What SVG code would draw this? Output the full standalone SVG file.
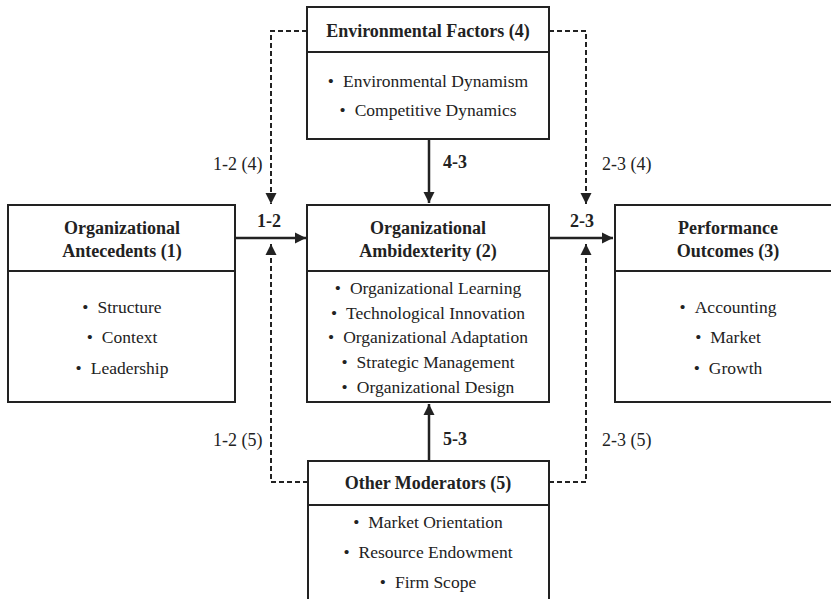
<svg xmlns="http://www.w3.org/2000/svg" width="831" height="599" viewBox="0 0 831 599">
<style>
.box{fill:#fff;stroke:#222;stroke-width:2}
.div{stroke:#222;stroke-width:2}
.t{font-family:"Liberation Serif","Times New Roman",Times,serif;font-size:17.5px;fill:#222;text-anchor:middle}
.b{font-weight:bold;font-size:18px}
.lab{font-family:"Liberation Serif","Times New Roman",Times,serif;font-size:18px;fill:#222}
.solid{fill:none;stroke:#222;stroke-width:2.5}
.dash{fill:none;stroke:#222;stroke-width:2;stroke-dasharray:5,3}
</style>
<defs>
<marker id="ah" markerUnits="userSpaceOnUse" markerWidth="12" markerHeight="12" refX="11" refY="6" orient="auto">
<path d="M0,0.5 L11,6 L0,11.5 z" fill="#222"/>
</marker>
</defs>
<rect width="831" height="599" fill="#fff"/>
<g id="connectors">
<path class="solid" d="M235,238 H306" marker-end="url(#ah)"/>
<path class="solid" d="M549,238 H613" marker-end="url(#ah)"/>
<path class="solid" d="M429,139 V203" marker-end="url(#ah)"/>
<path class="solid" d="M429,461 V404" marker-end="url(#ah)"/>
<path class="dash" d="M307,31 H271 V204" marker-end="url(#ah)"/>
<path class="dash" d="M549,31 H586 V204" marker-end="url(#ah)"/>
<path class="dash" d="M308,482 H271 V244" marker-end="url(#ah)"/>
<path class="dash" d="M549,482 H586 V244" marker-end="url(#ah)"/>
<text class="lab" x="213" y="170">1-2 (4)</text>
<text class="lab" x="602" y="170">2-3 (4)</text>
<text class="lab" x="213" y="446">1-2 (5)</text>
<text class="lab" x="602" y="446">2-3 (5)</text>
<text class="lab b" x="443" y="168">4-3</text>
<text class="lab b" x="443" y="445">5-3</text>
<text class="lab b" x="257" y="227">1-2</text>
<text class="lab b" x="570" y="227">2-3</text>
</g>
<g id="env">
<rect class="box" x="307" y="7" width="242" height="132"/>
<line class="div" x1="307" y1="52" x2="549" y2="52"/>
<text class="t b" x="428" y="37">Environmental Factors (4)</text>
<text class="t" x="428" y="87">•<tspan dx="9">Environmental Dynamism</tspan></text>
<text class="t" x="428" y="116">•<tspan dx="9">Competitive Dynamics</tspan></text>
</g>
<g id="antecedents">
<rect class="box" x="8" y="205" width="227" height="197"/>
<line class="div" x1="8" y1="271" x2="235" y2="271"/>
<text class="t b" x="122" y="234">Organizational</text>
<text class="t b" x="122" y="257">Antecedents (1)</text>
<text class="t" x="122" y="313">•<tspan dx="9">Structure</tspan></text>
<text class="t" x="122" y="343">•<tspan dx="9">Context</tspan></text>
<text class="t" x="122" y="374">•<tspan dx="9">Leadership</tspan></text>
</g>
<g id="ambidexterity">
<rect class="box" x="307" y="205" width="242" height="197"/>
<line class="div" x1="307" y1="271" x2="549" y2="271"/>
<text class="t b" x="428" y="234">Organizational</text>
<text class="t b" x="428" y="257">Ambidexterity (2)</text>
<text class="t" x="428" y="294">•<tspan dx="9">Organizational Learning</tspan></text>
<text class="t" x="428" y="319">•<tspan dx="9">Technological Innovation</tspan></text>
<text class="t" x="428" y="343">•<tspan dx="9">Organizational Adaptation</tspan></text>
<text class="t" x="428" y="368">•<tspan dx="9">Strategic Management</tspan></text>
<text class="t" x="428" y="393">•<tspan dx="9">Organizational Design</tspan></text>
</g>
<g id="outcomes">
<rect class="box" x="615" y="205" width="230" height="197"/>
<line class="div" x1="615" y1="271" x2="831" y2="271"/>
<text class="t b" x="728" y="234">Performance</text>
<text class="t b" x="728" y="257">Outcomes (3)</text>
<text class="t" x="728" y="313">•<tspan dx="9">Accounting</tspan></text>
<text class="t" x="728" y="343">•<tspan dx="9">Market</tspan></text>
<text class="t" x="728" y="374">•<tspan dx="9">Growth</tspan></text>
</g>
<g id="moderators">
<rect class="box" x="308" y="461" width="241" height="150"/>
<line class="div" x1="308" y1="505" x2="549" y2="505"/>
<text class="t b" x="428" y="489">Other Moderators (5)</text>
<text class="t" x="428" y="528">•<tspan dx="9">Market Orientation</tspan></text>
<text class="t" x="428" y="558">•<tspan dx="9">Resource Endowment</tspan></text>
<text class="t" x="428" y="588">•<tspan dx="9">Firm Scope</tspan></text>
</g>
</svg>
